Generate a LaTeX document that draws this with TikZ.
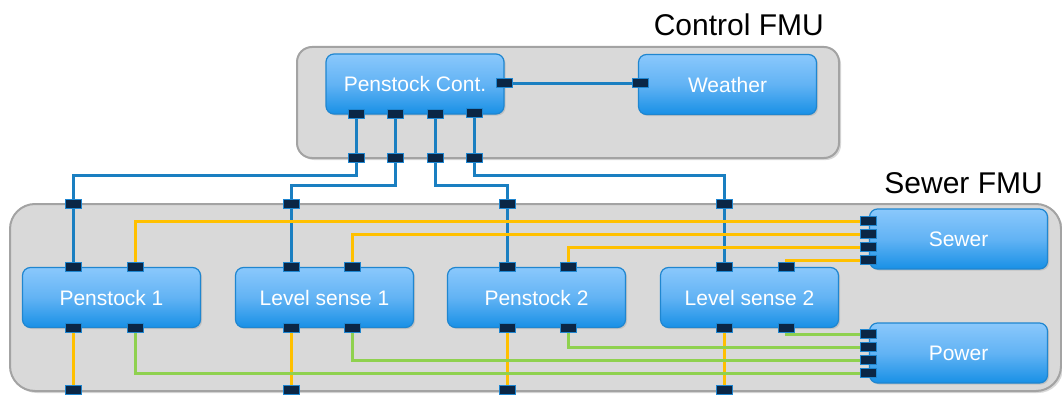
\documentclass[tikz,border=0pt]{standalone}
\usepackage{fontspec}
\setmainfont{Liberation Sans}
\usetikzlibrary{shadows}

\definecolor{boxtop}{HTML}{8AC8FC}
\definecolor{boxmid}{HTML}{62B3F4}
\definecolor{boxbot}{HTML}{1890E6}
\definecolor{boxline}{HTML}{1F86D0}
\definecolor{wireblue}{HTML}{1A7FC1}
\definecolor{wireyellow}{HTML}{FFC000}
\definecolor{wiregreen}{HTML}{8FD14F}
\definecolor{portfill}{HTML}{0B2645}
\definecolor{fmufill}{HTML}{D9D9D9}
\definecolor{fmuline}{HTML}{A3A3A3}

\pgfdeclarelayer{boxes}
\pgfdeclarelayer{wires}
\pgfsetlayers{boxes,wires,main}

\tikzset{
  fmu/.style={draw=fmuline, line width=2pt, fill=fmufill, inner sep=0pt,
    drop shadow={shadow xshift=2pt, shadow yshift=-2pt, opacity=0.25, fill=black!60}},
  comp/.style={draw=boxline, line width=1.2pt, rounded corners=8pt, inner sep=0pt,
    top color=boxtop, bottom color=boxbot, middle color=boxmid,
    minimum width=178pt, minimum height=60pt, text=white,
    font=\fontsize{21}{25}\selectfont,
    drop shadow={shadow xshift=1.5pt, shadow yshift=-1.5pt, opacity=0.2, fill=black!60}},
  fmulabel/.style={anchor=base east, inner sep=0pt, font=\fontsize{30}{34}\selectfont},
  port/.style={draw=boxline, line width=1pt, fill=portfill, inner sep=0pt,
    minimum width=16pt, minimum height=9pt},
  bluewire/.style={draw=wireblue, line width=3pt},
  yellowwire/.style={draw=wireyellow, line width=3pt},
  greenwire/.style={draw=wiregreen, line width=3pt},
}

\begin{document}
\begin{tikzpicture}[x=1pt, y=-1pt]
\useasboundingbox (0,0) rectangle (1062,396);

% containers and components
\begin{pgfonlayer}{boxes}
  \node[fmu, rounded corners=15pt, minimum width=542pt, minimum height=111pt] (ctrl) at (568,102.5) {};
  \node[fmu, rounded corners=25pt, minimum width=1051pt, minimum height=187pt] (sewerfmu) at (535.5,297.5) {};

  \node[comp] (pcont)   at (415,84)    {Penstock Cont.};
  \node[comp] (weather) at (727.5,84.5) {Weather};
  \node[comp] (pen1)    at (111.5,297.5) {Penstock 1};
  \node[comp] (lvl1)    at (324.5,297.5) {Level sense 1};
  \node[comp] (pen2)    at (536.5,297.5) {Penstock 2};
  \node[comp] (lvl2)    at (749.5,297.5) {Level sense 2};
  \node[comp] (sewer)   at (958.5,239)   {Sewer};
  \node[comp] (power)   at (958.5,353)   {Power};
\end{pgfonlayer}

\node[fmulabel] (ctrllabel)  at (824,36)  {Control FMU};
\node[fmulabel] (sewerlabel) at (1043,193) {Sewer FMU};

% ports
\node[port] (pcr) at (504,83) {};
\node[port] (wp)  at (640,83) {};

\node[port] (pcb1) at (356,114) {};
\node[port] (pcb2) at (395,114) {};
\node[port] (pcb3) at (435,114) {};
\node[port] (pcb4) at (474,113) {};

\node[port] (cb1) at (356,158) {};
\node[port] (cb2) at (395,158) {};
\node[port] (cb3) at (435,158) {};
\node[port] (cb4) at (474,158) {};

\node[port] (st1) at (73,204)  {};
\node[port] (st2) at (291,204) {};
\node[port] (st3) at (507,204) {};
\node[port] (st4) at (724,204) {};

\node[port] (p1a) at (73,267)  {};
\node[port] (p1b) at (135,267) {};
\node[port] (l1a) at (291,267) {};
\node[port] (l1b) at (352,267) {};
\node[port] (p2a) at (507,267) {};
\node[port] (p2b) at (568,267) {};
\node[port] (l2a) at (724,267) {};
\node[port] (l2b) at (786,267) {};

\node[port] (p1c) at (73,328)  {};
\node[port] (p1d) at (135,328) {};
\node[port] (l1c) at (291,328) {};
\node[port] (l1d) at (352,328) {};
\node[port] (p2c) at (507,328) {};
\node[port] (p2d) at (568,328) {};
\node[port] (l2c) at (724,328) {};
\node[port] (l2d) at (786,328) {};

\node[port] (sb1) at (73,390)  {};
\node[port] (sb2) at (291,390) {};
\node[port] (sb3) at (507,390) {};
\node[port] (sb4) at (724,390) {};

\node[port] (sw1) at (868,221) {};
\node[port] (sw2) at (868,234) {};
\node[port] (sw3) at (868,247) {};
\node[port] (sw4) at (868,260) {};

\node[port] (pw1) at (868,334) {};
\node[port] (pw2) at (868,347) {};
\node[port] (pw3) at (868,360) {};
\node[port] (pw4) at (868,373) {};

% connectors
\begin{pgfonlayer}{wires}
  \draw[bluewire] (pcr.center) -- (wp.center);
  \draw[bluewire] (pcb1.center) -- (cb1.center) -- ++(0,17) -| (st1.center) -- (p1a.center);
  \draw[bluewire] (pcb2.center) -- (cb2.center) -- ++(0,27) -| (st2.center) -- (l1a.center);
  \draw[bluewire] (pcb3.center) -- (cb3.center) -- ++(0,27) -| (st3.center) -- (p2a.center);
  \draw[bluewire] (pcb4.center) -- (cb4.center) -- ++(0,17) -| (st4.center) -- (l2a.center);

  \draw[yellowwire] (p1b.center) |- (sw1.center);
  \draw[yellowwire] (l1b.center) |- (sw2.center);
  \draw[yellowwire] (p2b.center) |- (sw3.center);
  \draw[yellowwire] (l2b.center) |- (sw4.center);

  \draw[yellowwire] (p1c.center) -- (sb1.center);
  \draw[yellowwire] (l1c.center) -- (sb2.center);
  \draw[yellowwire] (p2c.center) -- (sb3.center);
  \draw[yellowwire] (l2c.center) -- (sb4.center);

  \draw[greenwire] (p1d.center) |- (pw4.center);
  \draw[greenwire] (l1d.center) |- (pw3.center);
  \draw[greenwire] (p2d.center) |- (pw2.center);
  \draw[greenwire] (l2d.center) |- (pw1.center);
\end{pgfonlayer}
\end{tikzpicture}
\end{document}
